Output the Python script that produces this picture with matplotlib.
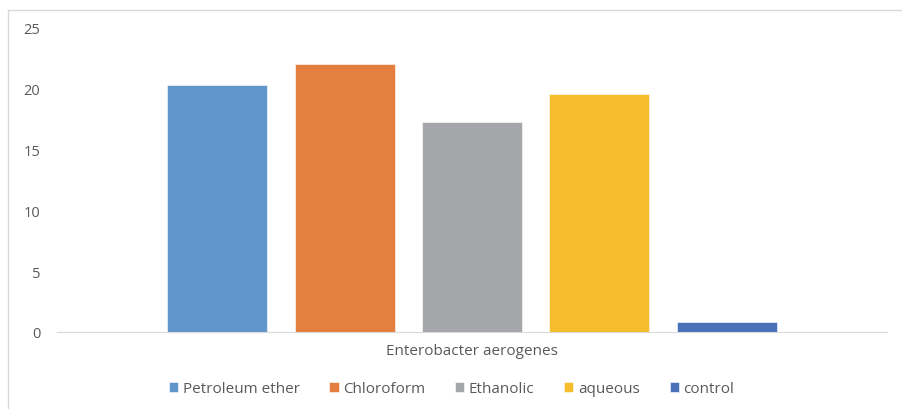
import matplotlib
matplotlib.use('Agg')
import matplotlib.pyplot as plt
from matplotlib.patches import Rectangle
import numpy as np

category = 'Enterobacter aerogenes'
series = ['Petroleum ether', 'Chloroform', 'Ethanolic', 'aqueous', 'control']
values = [20.3, 22.0, 17.3, 19.6, 0.8]
colors = ['#6096C9', '#E47F40', '#A5A6A9', '#F5BD2B', '#4871B9']
yticks = [0, 5, 10, 15, 20, 25]

plt.rcParams['font.family'] = ['Open Sans', 'DejaVu Sans']

fig = plt.figure(figsize=(9.03, 4.10), dpi=100)
# chart-area border (cut off at right and bottom in the original)
fig.patches.append(Rectangle((8 / 903, -0.1), 1.2, (410 - 11) / 410 + 0.1,
                             transform=fig.transFigure, fill=False,
                             edgecolor='#D9D9D9', lw=1.0))

ax = fig.add_axes([57 / 903, 77 / 410, 830 / 903, 304 / 410])
x = np.arange(len(series)) - (len(series) - 1) / 2
for xi, v, c, s in zip(x, values, colors, series):
    ax.bar(xi, v, width=0.786, color=c, label=s, edgecolor='white', lw=0.4)

ax.set_xlim(-3.257, 3.257)
ax.set_ylim(0, 25)
ax.set_yticks(yticks)
ax.tick_params(axis='y', length=0, pad=12, labelsize=10.5, labelcolor='#595959')
ax.set_xticks([0])
ax.set_xticklabels([category])
ax.tick_params(axis='x', length=0, pad=8, labelsize=11, labelcolor='#595959')
for s in ('top', 'right', 'left'):
    ax.spines[s].set_visible(False)
ax.spines['bottom'].set_color('#D9D9D9')

leg = fig.legend(loc='center', bbox_to_anchor=(0.5, (410 - 390) / 410), ncol=5,
                 frameon=False, fontsize=11, handlelength=0.6, handleheight=0.6,
                 handletextpad=0.3, columnspacing=1.95)
for t in leg.get_texts():
    t.set_color('#595959')

fig.savefig('out.png', dpi=100)
